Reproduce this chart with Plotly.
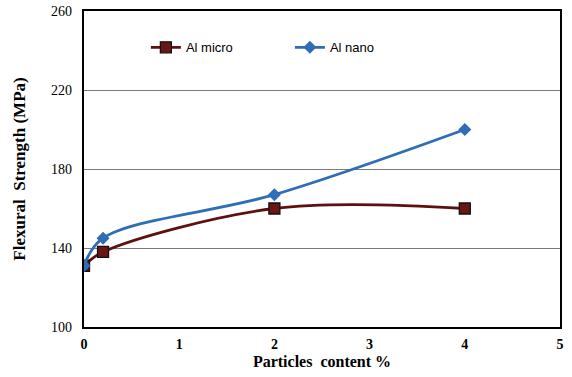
import plotly.graph_objects as go

x_vals = [0, 0.2, 2, 4]
al_micro = [131, 138, 160, 160]
al_nano = [131, 145, 167, 200]
x_ticks = [0, 1, 2, 3, 4, 5]
y_ticks = [100, 140, 180, 220, 260]

fig = go.Figure()
fig.add_trace(go.Scatter(
    x=x_vals, y=al_micro, name="Al micro", mode="lines+markers",
    line=dict(color="#5e1010", width=2.8, shape="spline", smoothing=1),
    marker=dict(symbol="square", size=11, color="#6a1616", line=dict(color="#111", width=1.3)),
))
fig.add_trace(go.Scatter(
    x=x_vals, y=al_nano, name="Al nano", mode="lines+markers",
    line=dict(color="#2f6db6", width=2.8, shape="spline", smoothing=1),
    marker=dict(symbol="diamond", size=10, color="#2f6db6"),
))

fig.update_layout(
    width=572, height=377,
    margin=dict(l=84, r=12, t=11, b=50),
    paper_bgcolor="white", plot_bgcolor="white",
    font=dict(family="Liberation Serif", color="black", size=14),
    legend=dict(orientation="h", x=0.13, y=0.885, xanchor="left", yanchor="middle",
                font=dict(family="Liberation Sans", size=13, color="black"),
                entrywidth=99, bgcolor="rgba(0,0,0,0)"),
    xaxis=dict(range=[0, 5], tickvals=x_ticks, ticktext=["<b>%d</b>" % v for v in x_ticks],
               showgrid=False, zeroline=False, automargin=False,
               showline=True, linecolor="black", linewidth=2.2, mirror=True,
               ticks="", ticklabelstandoff=3, tickfont=dict(family="Liberation Serif", size=14),
               title=dict(text="<b>Particles  content %</b>", font=dict(size=16), standoff=5)),
    yaxis=dict(range=[100, 260], tickvals=y_ticks, showgrid=True, gridcolor="#7a7a7a", gridwidth=1.2,
               zeroline=False, showline=True, linecolor="black", linewidth=2.2, mirror=True,
               automargin=False, ticks="", ticklabelstandoff=7,
               tickfont=dict(family="Liberation Serif", size=14),
               title=dict(text="<b>Flexural  Strength (MPa)</b>", font=dict(size=17), standoff=21)),
)

fig.write_html("out.html", config={"displayModeBar": False},
               post_script="document.body.style.margin='0';")
